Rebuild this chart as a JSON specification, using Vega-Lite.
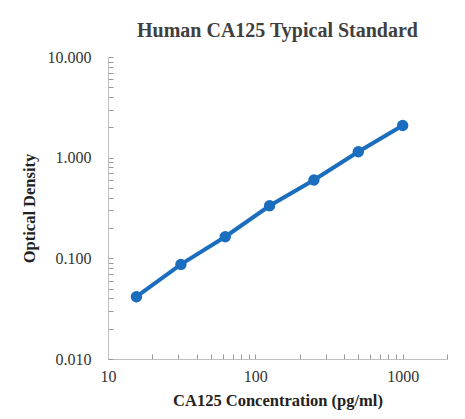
{
  "$schema": "https://vega.github.io/schema/vega-lite/v6.json",
  "width": 339,
  "height": 302,
  "autosize": "none",
  "padding": {"left": 108, "top": 57, "right": 18, "bottom": 60},
  "background": "white",
  "title": {"text": "Human CA125 Typical Standard", "font": "Liberation Serif", "fontSize": 20, "fontWeight": "bold", "color": "#404040", "offset": 8, "anchor": "middle"},
  "config": {"view": {"stroke": null}},
  "data": {"values": [
    {"conc": 15.6, "od": 0.0416},
    {"conc": 31.25, "od": 0.087},
    {"conc": 62.5, "od": 0.164},
    {"conc": 125, "od": 0.333},
    {"conc": 250, "od": 0.60},
    {"conc": 500, "od": 1.145},
    {"conc": 1000, "od": 2.09}
  ]},
  "encoding": {
    "x": {"field": "conc", "type": "quantitative", "scale": {"type": "log", "domain": [10, 2000], "nice": false},
      "axis": {"title": "CA125 Concentration (pg/ml)", "grid": false,
        "values": [10,20,30,40,50,60,70,80,90,100,200,300,400,500,600,700,800,900,1000,2000],
        "labelExpr": "indexof([10,100,1000], datum.value) >= 0 ? format(datum.value, 'd') : ''",
        "labelOverlap": false, "labelFlush": false, "labelFont": "Liberation Serif", "labelFontSize": 16, "labelColor": "#333333", "labelPadding": 14,
        "tickSize": -5, "tickColor": "#999999", "domainColor": "#bfbfbf",
        "titleFont": "Liberation Serif", "titleFontSize": 16.5, "titleFontWeight": "bold", "titleColor": "#222222", "titlePadding": 8}},
    "y": {"field": "od", "type": "quantitative", "scale": {"type": "log", "domain": [0.01, 10], "nice": false},
      "axis": {"title": "Optical Density", "grid": false,
        "values": [0.01,0.02,0.03,0.04,0.05,0.06,0.07,0.08,0.09,0.1,0.2,0.3,0.4,0.5,0.6,0.7,0.8,0.9,1,2,3,4,5,6,7,8,9,10],
        "labelExpr": "indexof([0.01,0.1,1,10], datum.value) >= 0 ? format(datum.value, '.3f') : ''",
        "labelOverlap": false, "labelFlush": false, "labelFont": "Liberation Serif", "labelFontSize": 16, "labelColor": "#333333", "labelPadding": 22,
        "tickSize": -5, "tickColor": "#999999", "domainColor": "#bfbfbf",
        "titleFont": "Liberation Serif", "titleFontSize": 16.5, "titleFontWeight": "bold", "titleColor": "#222222", "titlePadding": 10}}
  },
  "layer": [
    {"mark": {"type": "line", "color": "#1b6ebe", "strokeWidth": 4}},
    {"mark": {"type": "point", "filled": true, "opacity": 1, "color": "#1b6ebe", "size": 130}}
  ]
}
